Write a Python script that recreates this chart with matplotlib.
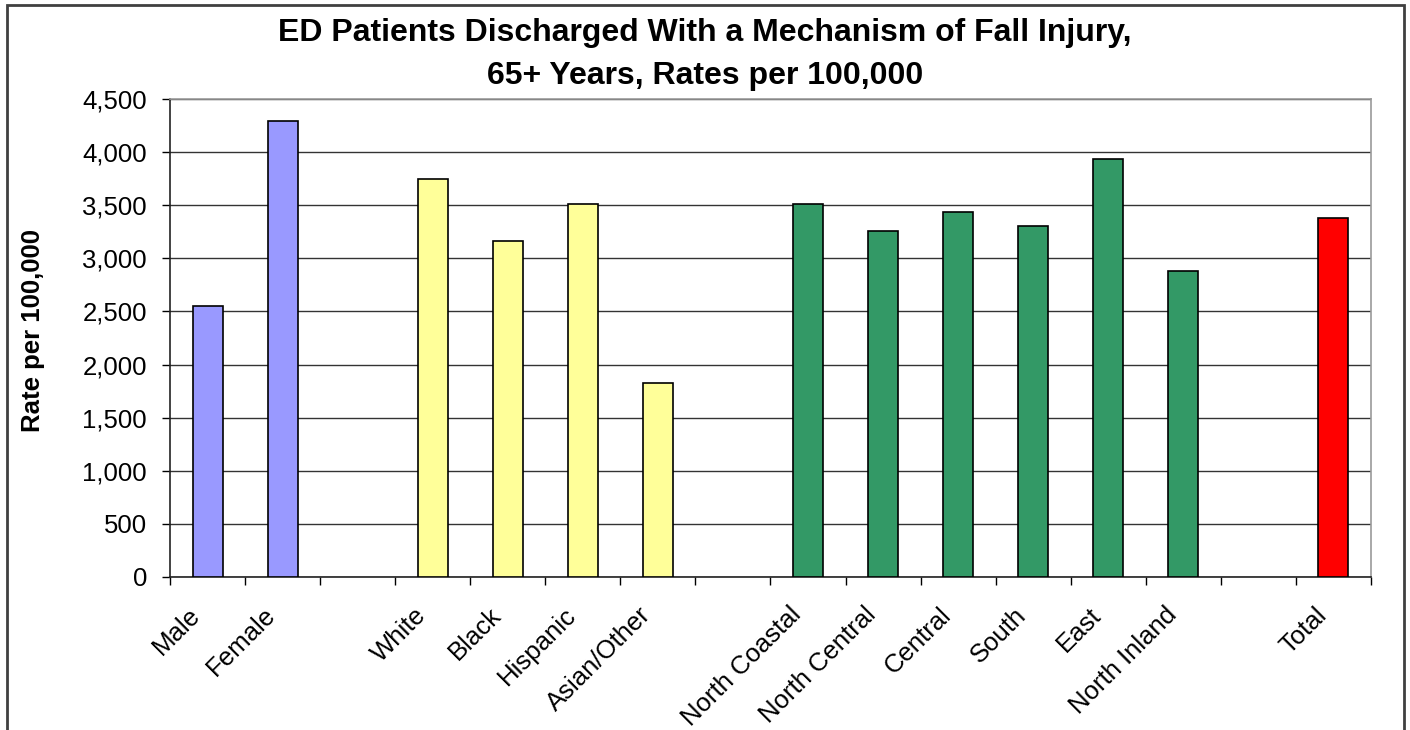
import numpy as np
import matplotlib
matplotlib.use("Agg")
import matplotlib.pyplot as plt
from matplotlib.patches import Rectangle
from matplotlib.transforms import ScaledTranslation
from matplotlib.ticker import FuncFormatter, MultipleLocator

plt.rcParams['font.family'] = ['Liberation Sans', 'DejaVu Sans']

# rates per 100,000
sex_labels = ["Male", "Female"]
sex_rates = [2550, 4290]

race_labels = ["White", "Black", "Hispanic", "Asian/Other"]
race_rates = [3745, 3165, 3515, 1830]

region_labels = ["North Coastal", "North Central", "Central", "South", "East", "North Inland"]
region_rates = [3515, 3255, 3440, 3305, 3935, 2885]

total_labels = ["Total"]
total_rates = [3380]

groups = [
    (sex_labels, sex_rates, "#9999FF"),
    (race_labels, race_rates, "#FFFF99"),
    (region_labels, region_rates, "#339966"),
    (total_labels, total_rates, "#FF0000"),
]

# build the category axis with an empty slot between groups (like the Excel sheet)
labels, values, colors = [], [], []
for k, (lab, val, col) in enumerate(groups):
    if k > 0:
        labels.append("")
        values.append(np.nan)
        colors.append("white")
    labels += lab
    values += val
    colors += [col] * len(lab)

n = len(labels)
xpos = np.arange(n)

fig = plt.figure(figsize=(14.1, 7.3), dpi=100)
ax = fig.add_axes([170 / 1410, (730 - 577) / 730, (1371 - 170) / 1410, (577 - 99) / 730])

ax.bar(xpos, values, width=0.4, color=colors, edgecolor="black", linewidth=1.2, zorder=3)

ax.set_xlim(-0.5, n - 0.5)
ax.set_ylim(0, 4500)
ax.yaxis.set_major_locator(MultipleLocator(500))
ax.yaxis.set_major_formatter(FuncFormatter(lambda v, p: f"{int(v):,}"))
ax.set_axisbelow(True)
ax.yaxis.grid(True, color="#333333", linewidth=1)

ax.spines["left"].set_color("#222222")
ax.spines["bottom"].set_color("#222222")
ax.spines["top"].set_color("#999999")
ax.spines["right"].set_color("#999999")
for s in ax.spines.values():
    s.set_linewidth(1.2)

ax.tick_params(axis="y", direction="out", length=5.5, width=1, pad=11, labelsize=18.5)
ax.set_xticks(xpos)
ax.set_xticks(np.arange(n + 1) - 0.5, minor=True)
ax.tick_params(axis="x", which="minor", direction="out", length=5.5, width=1)
ax.tick_params(axis="x", which="major", length=0, pad=18.5)
ax.set_xticklabels(labels, fontsize=18.5, rotation=45, ha="right", va="top",
                   rotation_mode="anchor")
shift = ScaledTranslation(-19 / 100, 0, fig.dpi_scale_trans)
for lbl in ax.get_xticklabels():
    lbl.set_transform(lbl.get_transform() + shift)

fig.text(33 / 1410, 1 - 330 / 730, "Rate per 100,000", rotation=90, fontsize=18.5,
         fontweight="bold", ha="center", va="center")

fig.text(0.5, 1 - 33 / 730, "ED Patients Discharged With a Mechanism of Fall Injury,",
         fontsize=23, fontweight="bold", ha="center", va="center")
fig.text(0.5, 1 - 76 / 730, "65+ Years, Rates per 100,000",
         fontsize=23, fontweight="bold", ha="center", va="center")

# chart border
fig.add_artist(Rectangle((6.5 / 1410, -0.05), (1404 - 6.5) / 1410, 1.05 - 5 / 730,
                         transform=fig.transFigure, fill=False, edgecolor="#404040",
                         linewidth=2, clip_on=False))

fig.savefig("out.png", dpi=100)
